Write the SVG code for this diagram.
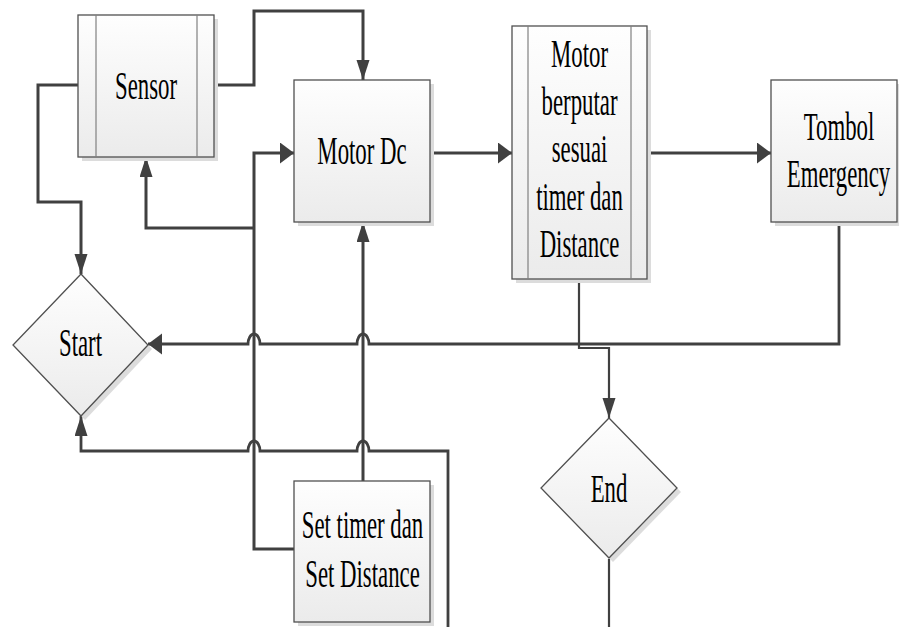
<svg xmlns="http://www.w3.org/2000/svg" width="899" height="627" viewBox="0 0 899 627">
<style>
.box{fill:url(#g);stroke:#505050;stroke-width:1.3}
.sh{fill:#dcdcdc}
.inner{stroke:#808080;stroke-width:1.2;fill:none}
.c{fill:none;stroke:#404040;stroke-width:3}
.c2{fill:none;stroke:#404040;stroke-width:2.2}
text{font-family:"Liberation Serif","Times New Roman",serif;font-size:40px;fill:#000;text-anchor:middle}
</style>
<defs>
<linearGradient id="g" x1="0" y1="0" x2="0" y2="1">
<stop offset="0" stop-color="#fefefe"/>
<stop offset="1" stop-color="#ebebeb"/>
</linearGradient>
<marker id="ah" markerUnits="userSpaceOnUse" markerWidth="16" markerHeight="22" refX="14" refY="10.5" orient="auto">
<path d="M0,0 L14,10.5 L0,21 z" fill="#404040"/>
</marker>
<marker id="av" markerUnits="userSpaceOnUse" markerWidth="22" markerHeight="14" refX="20" refY="6.5" orient="auto">
<path d="M0,0 L20,6.5 L0,13 z" fill="#404040"/>
</marker>
</defs>
<rect width="899" height="627" fill="#fff"/>

<g id="connectors">
<path class="c" d="M78,85 H38 V202 H81 V274" marker-end="url(#av)"/>
<path class="c" d="M214,85 H254 V11 H363 V80" marker-end="url(#av)"/>
<path class="c" d="M294,549 H254 V153 H294" marker-end="url(#ah)"/>
<path class="c" d="M254,228 H146 V157" marker-end="url(#av)"/>
<path class="c" d="M363,481 V222" marker-end="url(#av)"/>
<path class="c" d="M430,153 H512" marker-end="url(#ah)"/>
<path class="c" d="M647,153 H771" marker-end="url(#ah)"/>
<path class="c2" d="M839,222 V344 H369 A6,10 0 0 0 357,344 H260 A6,10 0 0 0 248,344 H148" marker-end="url(#ah)" style="stroke-width:2.8"/>
<path class="c2" d="M579,279 V348 H609 V418" marker-end="url(#av)"/>
<path class="c2" d="M448,627 V451 H369 A6,10 0 0 0 357,451 H260 A6,10 0 0 0 248,451 H81 V416" marker-end="url(#av)" style="stroke-width:2.8"/>
<path class="c2" d="M609,559 V627"/>
</g>

<g id="sensor">
<rect class="sh" x="82" y="19" width="136" height="142"/>
<rect class="box" x="78" y="15" width="136" height="142"/>
<line class="inner" x1="96" y1="15" x2="96" y2="157"/>
<line class="inner" x1="197" y1="15" x2="197" y2="157"/>
<text transform="translate(146,99) scale(0.57,1)">Sensor</text>
</g>

<g id="motor-dc">
<rect class="sh" x="298" y="84" width="136" height="142"/>
<rect class="box" x="294" y="80" width="136" height="142"/>
<text transform="translate(362,164) scale(0.57,1)">Motor Dc</text>
</g>

<g id="motor-berputar">
<rect class="sh" x="516" y="30" width="135" height="253"/>
<rect class="box" x="512" y="26" width="135" height="253"/>
<line class="inner" x1="528" y1="26" x2="528" y2="279"/>
<line class="inner" x1="631" y1="26" x2="631" y2="279"/>
<text transform="translate(579.5,67) scale(0.57,1)">Motor</text>
<text transform="translate(579.5,114.5) scale(0.57,1)">berputar</text>
<text transform="translate(579.5,162) scale(0.57,1)">sesuai</text>
<text transform="translate(579.5,209.5) scale(0.57,1)">timer dan</text>
<text transform="translate(579.5,257) scale(0.57,1)">Distance</text>
</g>

<g id="tombol-emergency">
<rect class="sh" x="775" y="84" width="124" height="142"/>
<rect class="box" x="771" y="80" width="126" height="142"/>
<text transform="translate(839,140) scale(0.57,1)">Tombol</text>
<text transform="translate(838.5,187) scale(0.57,1)">Emergency</text>
</g>

<g id="start">
<polygon class="sh" points="85,278 152,349 85,420 17,349"/>
<polygon class="box" points="81,274 148,345 81,416 13,345"/>
<text transform="translate(80.5,356) scale(0.57,1)">Start</text>
</g>

<g id="set-timer">
<rect class="sh" x="298" y="485" width="136" height="141"/>
<rect class="box" x="294" y="481" width="136" height="141"/>
<text transform="translate(362.5,538) scale(0.57,1)">Set timer dan</text>
<text transform="translate(362.5,587) scale(0.57,1)">Set Distance</text>
</g>

<g id="end">
<polygon class="sh" points="613,422 681,492 613,562 545,492"/>
<polygon class="box" points="609,418 677,488 609,558 541,488"/>
<text transform="translate(609,502) scale(0.57,1)">End</text>
</g>
</svg>
